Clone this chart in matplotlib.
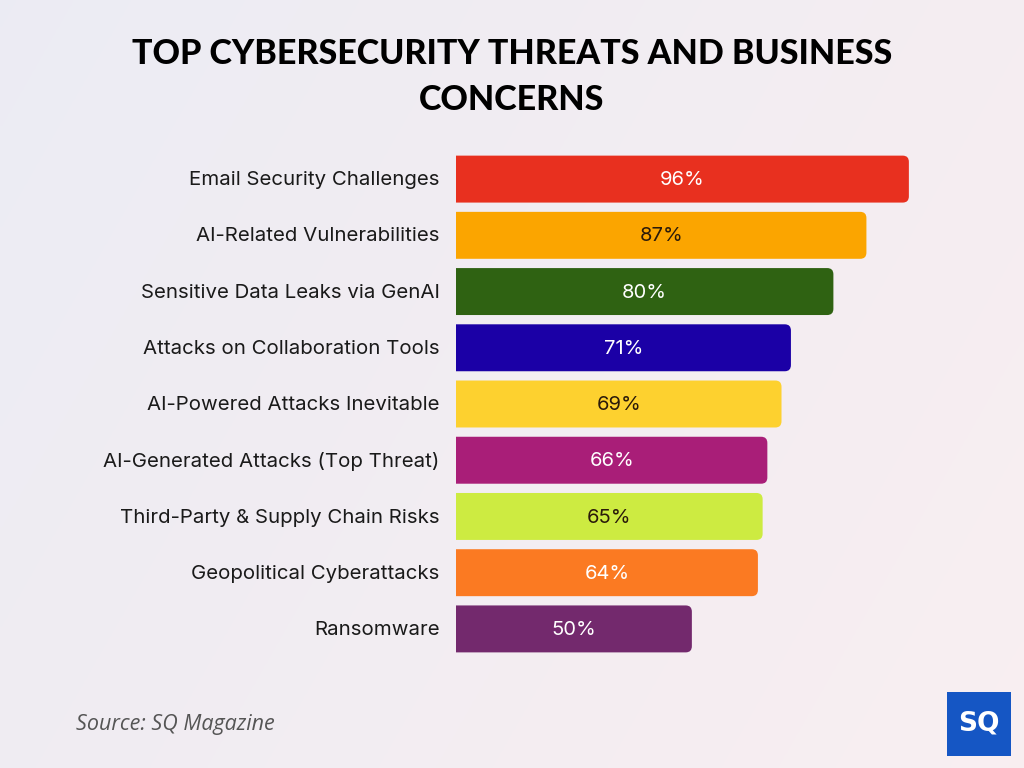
import numpy as np
import matplotlib.pyplot as plt
from matplotlib.patches import FancyBboxPatch, Rectangle

categories = [
    "Email Security Challenges",
    "AI-Related Vulnerabilities",
    "Sensitive Data Leaks via GenAI",
    "Attacks on Collaboration Tools",
    "AI-Powered Attacks Inevitable",
    "AI-Generated Attacks (Top Threat)",
    "Third-Party & Supply Chain Risks",
    "Geopolitical Cyberattacks",
    "Ransomware",
]
values = [96, 87, 80, 71, 69, 66, 65, 64, 50]
bar_colors = ["#E8301F", "#FBA500", "#2F6212", "#1B00A6", "#FDD12F",
              "#A91E78", "#CDEB41", "#FB7A22", "#73296D"]
label_colors = ["white", "#2a1a0a", "white", "white", "#2a1a0a",
                "white", "#2a1a0a", "white", "white"]

fig = plt.figure(figsize=(10.24, 7.68), dpi=100)

# soft gradient background
bg = fig.add_axes([0, 0, 1, 1], zorder=-10)
xx = np.linspace(0, 1, 256)
yy = np.linspace(0, 1, 256)
X, Y = np.meshgrid(xx, yy)
c1 = np.array([0.925, 0.925, 0.955])
c2 = np.array([0.975, 0.935, 0.945])
t = (0.7 * X + 0.3 * (1 - Y))[..., None]
bg.imshow(c1 * (1 - t) + c2 * t, extent=[0, 1, 0, 1], aspect="auto", origin="lower")
bg.axis("off")

ax = fig.add_axes([0.4453, 0.1445, 0.4607, 0.6589])
ax.set_xlim(0, 100)
ax.set_ylim(len(categories) - 0.5, -0.5)
ax.axis("off")

h = 0.835
for i, (v, c) in enumerate(zip(values, bar_colors)):
    patch = FancyBboxPatch((-3, i - h / 2), v + 3, h,
                           boxstyle="round,pad=0,rounding_size=1.3",
                           mutation_aspect=0.085,
                           fc=c, ec="none", clip_on=True)
    ax.add_patch(patch)
    ax.text(v / 2, i + 0.02, f"{v}%", ha="center", va="center",
            fontsize=14.5, family="Inter", color=label_colors[i])
    ax.text(-3.5, i + 0.02, categories[i], ha="right", va="center",
            fontsize=14.7, family="Inter", color="#1a1a1a", clip_on=False)

fig.text(0.5, 0.930, "TOP CYBERSECURITY THREATS AND BUSINESS",
         ha="center", va="center", fontsize=24.5, fontweight="black",
         family="Lato", color="black")
fig.text(0.5, 0.870, "CONCERNS",
         ha="center", va="center", fontsize=24.5, fontweight="black",
         family="Lato", color="black")

fig.text(0.074, 0.057, "Source: SQ Magazine", ha="left", va="center",
         fontsize=15.5, style="italic", family="Open Sans", color="#555555")

# logo
fig.patches.append(Rectangle((947 / 1024, 1 - 756 / 768), 64 / 1024, 64 / 768,
                             transform=fig.transFigure, fc="#1556C4", ec="none"))
fig.text(979 / 1024, 1 - 724 / 768, "SQ", ha="center", va="center",
         fontsize=19, fontweight="bold", family="DejaVu Sans", color="white")

fig.savefig("out.png", dpi=100)
